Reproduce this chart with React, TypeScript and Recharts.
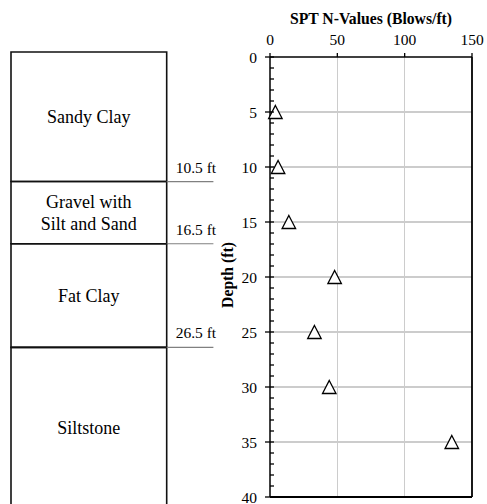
import React from 'react';
import {
  ComposedChart,
  ScatterChart,
  Scatter,
  XAxis,
  YAxis,
  ReferenceLine,
  ReferenceArea,
} from 'recharts';

// ---- data ----
const depths = [5, 10, 15, 20, 25, 30, 35];
const nValues = [4, 6, 14, 48, 33, 44, 135];
const xTicks = [0, 50, 100, 150];
const yTicks = [
  0, 1, 2, 3, 4, 5, 6, 7, 8, 9, 10, 11, 12, 13, 14, 15, 16, 17, 18, 19, 20,
  21, 22, 23, 24, 25, 26, 27, 28, 29, 30, 31, 32, 33, 34, 35, 36, 37, 38, 39, 40,
];
const yGrid = [5, 10, 15, 20, 25, 30, 35];
const xGrid = [50, 100];

const layerNames = ['Sandy Clay', 'Gravel with\nSilt and Sand', 'Fat Clay', 'Siltstone'];
const layerTops: (number | undefined)[] = [undefined, 10.5, 16.5, 26.5];
const layerBottoms: (number | undefined)[] = [10.5, 16.5, 26.5, undefined];
const boundaryDepths = [10.5, 16.5, 26.5];
const boundaryLabels = ['10.5 ft', '16.5 ft', '26.5 ft'];

const xTitle = 'SPT N-Values (Blows/ft)';
const yTitle = 'Depth (ft)';

const FONT = 'Liberation Serif, Times New Roman, serif';

const points = depths.map((d, i) => ({ depth: d, n: nValues[i] }));

const Triangle = (props: any) => {
  const { cx, cy } = props;
  if (cx == null || cy == null) return null;
  const w = 13.5;
  const h = 13;
  return (
    <path
      d={`M${cx},${cy - h / 2} L${cx + w / 2},${cy + h / 2} L${cx - w / 2},${cy + h / 2} Z`}
      fill="#fff"
      stroke="#000"
      strokeWidth={1.3}
      strokeLinejoin="miter"
    />
  );
};

const YTick = (props: any) => {
  const { x, y, payload } = props;
  const v = payload.value;
  const major = v % 5 === 0;
  const ax = x + 13;
  return (
    <g>
      <line x1={major ? ax - 5 : ax} x2={ax + 4} y1={y} y2={y} stroke="#000" strokeWidth={1.3} />
      {major && (
        <text x={x} y={y} dy="0.355em" textAnchor="end" fontSize={15.5} fontFamily={FONT} fill="#000">
          {v}
        </text>
      )}
    </g>
  );
};

const XTitle = (props: any) => {
  const vb = props.viewBox;
  return (
    <text
      x={vb.x + vb.width / 2}
      y={vb.y + 24}
      textAnchor="middle"
      fontSize={15.7}
      fontWeight="bold"
      fontFamily={FONT}
      fill="#000"
    >
      {xTitle}
    </text>
  );
};

const YTitle = (props: any) => {
  const vb = props.viewBox;
  const x = vb.x + vb.width - 43;
  const y = vb.y + vb.height / 2 - 2;
  return (
    <text
      x={x}
      y={y}
      transform={`rotate(-90 ${x} ${y})`}
      textAnchor="middle"
      dy="0.355em"
      fontSize={15.7}
      fontWeight="bold"
      fontFamily={FONT}
      fill="#000"
    >
      {yTitle}
    </text>
  );
};

const layerLabel = (name: string) => (props: any) => {
  const vb = props.viewBox;
  if (!vb) return null;
  const lines = name.split('\n');
  const cx = vb.x + vb.width / 2;
  const cy = vb.y + vb.height / 2;
  const lh = 22;
  return (
    <text textAnchor="middle" fontSize={18} fontFamily={FONT} fill="#000">
      {lines.map((l, i) => (
        <tspan key={i} x={cx} y={cy + (i - (lines.length - 1) / 2) * lh} dy="0.355em">
          {l}
        </tspan>
      ))}
    </text>
  );
};

export default function App() {
  return (
    <div
      style={{
        position: 'absolute',
        left: 0,
        top: 0,
        width: 487,
        height: 504,
        overflow: 'hidden',
        background: '#fff',
      }}
    >
      <div style={{ position: 'absolute', left: 0, top: 0 }}>
        <ComposedChart width={230} height={508} margin={{ top: 52, right: 16.6, bottom: 0, left: 11 }}>
          <XAxis type="number" dataKey="x" domain={[0, 1.3]} allowDataOverflow hide />
          <YAxis type="number" dataKey="y" domain={[-2, 42]} reversed allowDataOverflow hide />
          {boundaryDepths.map((d, i) => (
            <ReferenceLine
              key={`b${i}`}
              segment={[
                { x: 1, y: d },
                { x: 1.3, y: d },
              ]}
              stroke="#808080"
              strokeWidth={1.2}
              label={{
                value: boundaryLabels[i],
                position: 'insideBottomLeft',
                offset: 9,
                fontSize: 15.5,
                fontFamily: FONT,
                fill: '#000',
              }}
            />
          ))}
          {layerNames.map((name, i) => (
            <ReferenceArea
              key={`l${i}`}
              x1={0}
              x2={1}
              y1={layerTops[i]}
              y2={layerBottoms[i]}
              stroke="#111"
              strokeWidth={1.6}
              fill="none"
              fillOpacity={0}
              label={{ content: layerLabel(name) }}
            />
          ))}
        </ComposedChart>
      </div>
      <div style={{ position: 'absolute', left: 0, top: 0 }}>
        <ScatterChart width={487} height={504} margin={{ top: 0, right: 15, bottom: 7, left: 0 }}>
          {yGrid.map((v) => (
            <ReferenceLine
              key={`gy${v}`}
              y={v}
              stroke="#cccccc"
              strokeWidth={1.2}
              shapeRendering="crispEdges"
            />
          ))}
          {xGrid.map((v) => (
            <ReferenceLine
              key={`gx${v}`}
              x={v}
              stroke="#cccccc"
              strokeWidth={1.2}
              shapeRendering="crispEdges"
            />
          ))}
          <XAxis
            type="number"
            dataKey="n"
            orientation="top"
            domain={[0, 150]}
            ticks={xTicks}
            interval={0}
            height={57}
            tickSize={4}
            tickMargin={8}
            axisLine={{ stroke: '#000', strokeWidth: 1.5 }}
            tickLine={{ stroke: '#000', strokeWidth: 1.3 }}
            tick={{ fontSize: 15.5, fontFamily: FONT, fill: '#000' }}
            label={{ content: XTitle }}
          />
          <YAxis
            type="number"
            dataKey="depth"
            domain={[0, 40]}
            reversed
            ticks={yTicks}
            interval={0}
            width={270}
            tickSize={5}
            tickMargin={8}
            tickLine={false}
            axisLine={{ stroke: '#000', strokeWidth: 1.5 }}
            tick={<YTick />}
            label={{ content: YTitle }}
          />
          <ReferenceLine x={150} stroke="#000" strokeWidth={1.8} />
          <ReferenceLine y={40} stroke="#000" strokeWidth={1.8} />
          <Scatter data={points} shape={<Triangle />} isAnimationActive={false} />
        </ScatterChart>
      </div>
    </div>
  );
}
